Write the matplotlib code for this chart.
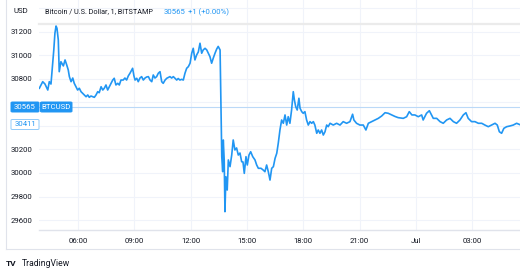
import matplotlib
matplotlib.use("Agg")
import matplotlib.pyplot as plt
from matplotlib.patches import FancyBboxPatch
from matplotlib.lines import Line2D

# ---- data (hours since 30 Jun 00:00, price in USD) ----
times = [3.94, 4.03, 4.12, 4.24, 4.39, 4.47, 4.56, 4.65, 4.71, 4.77, 4.83, 4.88, 4.95, 5.00, 5.09,
         5.22, 5.31, 5.40, 5.48, 5.54, 5.63, 5.72, 5.80, 5.89, 5.98, 6.07, 6.16, 6.25, 6.34, 6.43,
         6.52, 6.60, 6.69, 6.78, 6.87, 6.96, 7.05, 7.13, 7.23, 7.32, 7.40, 7.49, 7.58, 7.67, 7.76,
         7.85, 7.93, 8.02, 8.12, 8.20, 8.29, 8.41, 8.50, 8.59, 8.68, 8.77, 8.91, 8.98, 9.04, 9.13,
         9.21, 9.30, 9.39, 9.48, 9.57, 9.66, 9.75, 9.84, 9.93, 10.01, 10.10, 10.19, 10.28, 10.37,
         10.46, 10.54, 10.64, 10.73, 10.81, 10.90, 10.99, 11.08, 11.17, 11.26, 11.34, 11.43, 11.52,
         11.61, 11.70, 11.79, 11.88, 11.97, 12.06, 12.14, 12.23, 12.32, 12.41, 12.50, 12.59, 12.67,
         12.77, 12.86, 12.94, 13.03, 13.12, 13.21, 13.30, 13.39, 13.47, 13.57, 13.66, 13.71, 13.74,
         13.79, 13.83, 13.88, 13.95, 14.01, 14.10, 14.19, 14.27, 14.36, 14.45, 14.54, 14.63, 14.72,
         14.79, 14.86, 14.95, 15.02, 15.11, 15.20, 15.31, 15.43, 15.52, 15.61, 15.75, 15.87, 15.96,
         16.05, 16.14, 16.23, 16.32, 16.41, 16.50, 16.59, 16.67, 16.76, 16.85, 16.94, 17.03, 17.12,
         17.20, 17.29, 17.38, 17.47, 17.53, 17.60, 17.68, 17.77, 17.83, 17.92, 18.00, 18.09, 18.18,
         18.27, 18.36, 18.45, 18.54, 18.62, 18.72, 18.80, 18.89, 18.98, 19.07, 19.16, 19.25, 19.33,
         19.43, 19.60, 19.78, 19.96, 20.13, 20.31, 20.49, 20.63, 20.70, 20.84, 21.02, 21.20, 21.34,
         21.47, 21.65, 21.82, 22.00, 22.18, 22.36, 22.53, 22.71, 22.89, 23.06, 23.33, 23.51, 23.65,
         23.79, 23.95, 24.13, 24.31, 24.39, 24.57, 24.72, 24.84, 24.93, 25.11, 25.29, 25.46, 25.64,
         25.82, 26.00, 26.17, 26.35, 26.53, 26.67, 26.79, 26.97, 27.15, 27.33, 27.51, 27.68, 27.86,
         28.04, 28.22, 28.34, 28.45, 28.57, 28.69, 28.84, 29.01, 29.19, 29.37, 29.55]
prices = [30721, 30749, 30777, 30757, 30706, 30777, 30757, 30934, 31047, 31189, 31251, 31231, 31132, 30862, 30947,
          30911, 30962, 30919, 30877, 30820, 30777, 30808, 30763, 30734, 30706, 30721, 30692, 30678, 30664, 30649,
          30664, 30644, 30655, 30649, 30644, 30664, 30692, 30683, 30734, 30706, 30721, 30749, 30706, 30734, 30763,
          30791, 30806, 30749, 30763, 30749, 30791, 30791, 30808, 30791, 30826, 30849, 30891, 30826, 30791, 30806,
          30777, 30808, 30820, 30791, 30808, 30817, 30820, 30791, 30777, 30834, 30808, 30820, 30849, 30862,
          30777, 30763, 30791, 30806, 30813, 30820, 30808, 30820, 30806, 30791, 30804, 30791, 30797,
          30791, 30849, 30891, 30905, 30934, 31019, 31061, 30962, 31004, 31030, 31104, 31019, 31047,
          31061, 31047, 31021, 30990, 30934, 30979, 31019, 31055, 31077, 31047, 30139, 30011, 30281,
          30111, 29671, 29968, 29855, 30111, 30054, 30153, 30281, 30196, 30213, 30153, 30170, 30096,
          30094, 29997, 30139, 30068, 30153, 30181, 30139, 30111, 30068, 30040, 30040, 30025, 30011,
          30068, 30011, 29940, 30040, 30054, 30125, 30168, 30253, 30366, 30451, 30423, 30494, 30408,
          30479, 30423, 30536, 30692, 30621, 30564, 30536, 30636, 30551, 30522, 30508, 30522, 30451,
          30408, 30437, 30423, 30437, 30408, 30338, 30366, 30338, 30366, 30323, 30351, 30408, 30394,
          30423, 30408, 30423, 30408, 30437, 30423, 30437, 30500, 30451, 30423, 30408, 30408, 30366,
          30423, 30437, 30451, 30465, 30485, 30513, 30508, 30494, 30481, 30471, 30465, 30479, 30522,
          30494, 30494, 30479, 30494, 30451, 30508, 30530, 30494, 30465, 30465, 30437, 30423, 30451,
          30465, 30437, 30423, 30451, 30494, 30513, 30465, 30437, 30437, 30423, 30423, 30408, 30394,
          30408, 30423, 30408, 30351, 30338, 30380, 30394, 30400, 30408, 30423, 30411]

x_ticks = [6, 9, 12, 15, 18, 21, 24, 27, 30]
x_labels = ["06:00", "09:00", "12:00", "15:00", "18:00", "21:00", "Jul", "03:00", "06:00"]
y_ticks = [29600, 29800, 30000, 30200, 30400, 30600, 30800, 31000, 31200, 31400]
# 30400 and 30600 are hidden behind the price labels, 31400 behind the "USD" header
y_labels = ["29600", "29800", "30000", "30200", "", "", "30800", "31000", "31200", ""]
title_text = "Bitcoin / U.S. Dollar, 1, BITSTAMP"
title_value = "30565"
title_change = "+1 (+0.00%)"
current_price = 30565
last_price = 30411
symbol = "BTCUSD"

plt.rcParams['font.family'] = ['Roboto', 'DejaVu Sans']

W, H = 520, 272
fig = plt.figure(figsize=(W / 100, H / 100), dpi=100)
fig.patch.set_facecolor("white")


def fx(px):
    return px / W


def fy(py):
    return (H - py) / H


BLUE = "#2196f3"
GRID = "#f0f3fa"
TXT = "#131722"

ax = fig.add_axes([fx(39), fy(230), fx(520) - fx(39), fy(0) - fy(230)])
ax.set_xlim(3.922, 29.55)
ax.set_ylim(29515, 31472)

ax.plot(times, prices, color=BLUE, lw=1.2, zorder=3, solid_joinstyle="round")
ax.axhline(current_price, color="#bbd9f7", lw=0.8, zorder=2)

ax.set_xticks(x_ticks[:-1])
ax.set_xticklabels(x_labels[:-1])
ax.set_yticks(y_ticks)
ax.set_yticklabels(y_labels)
ax.tick_params(axis="both", length=0, labelsize=5.6, colors=TXT)
ax.tick_params(axis="y", pad=5)
ax.tick_params(axis="x", pad=6)
ax.grid(True, color=GRID, lw=0.8, zorder=0)
for s in ["top", "right", "left"]:
    ax.spines[s].set_visible(False)
ax.spines["bottom"].set_color("#e0e3eb")
ax.spines["bottom"].set_linewidth(1.0)

# partially visible last tick label at the right edge (cut by the canvas as in the original)
fig.text(fx(531), fy(240), x_labels[-1], ha="center", va="center", fontsize=5.6, color=TXT)

# header band line
fig.add_artist(Line2D([fx(39), fx(520)], [fy(24), fy(24)], color="#ebebeb", lw=1.6))
# outer frame
fig.add_artist(Line2D([fx(6), fx(6)], [fy(0), fy(249)], color="#e0e3eb", lw=0.8))
fig.add_artist(Line2D([fx(6), fx(520)], [fy(249), fy(249)], color="#e0e3eb", lw=0.8))

# header texts
fig.text(fx(13), fy(11), "USD", fontsize=5.6, color=TXT, va="center", ha="left")
fig.text(fx(45), fy(12), title_text, fontsize=5.25, color=TXT, va="center", ha="left")
fig.text(fx(164), fy(12), title_value, fontsize=5.6, color=BLUE, va="center", ha="left")
fig.text(fx(188), fy(12), title_change, fontsize=5.6, color=BLUE, va="center", ha="left")


def box(x0, x1, yc, h, face, edge, text, tcolor):
    r = FancyBboxPatch((fx(x0), fy(yc + h / 2)), fx(x1) - fx(x0), fy(yc - h / 2) - fy(yc + h / 2),
                       boxstyle="round,pad=0,rounding_size=0.003", transform=fig.transFigure,
                       facecolor=face, edgecolor=edge, lw=0.7, zorder=5)
    fig.add_artist(r)
    fig.text((fx(x0) + fx(x1)) / 2, fy(yc), text, fontsize=5.6, color=tcolor,
             ha="center", va="center", zorder=6)


box(11, 39, 107, 10, BLUE, BLUE, str(current_price), "white")
box(40.5, 72, 107, 10, BLUE, BLUE, symbol, "white")
box(11, 39, 124.5, 10, "white", "#90caf9", str(last_price), BLUE)

# TradingView footer
fig.text(fx(6), fy(263), "TV", fontsize=6, fontweight="bold", color=TXT, va="center", ha="left")
fig.text(fx(22), fy(263), "TradingView", fontsize=6.2, color=TXT, va="center", ha="left")

fig.savefig("out.png", dpi=100, facecolor="white")
